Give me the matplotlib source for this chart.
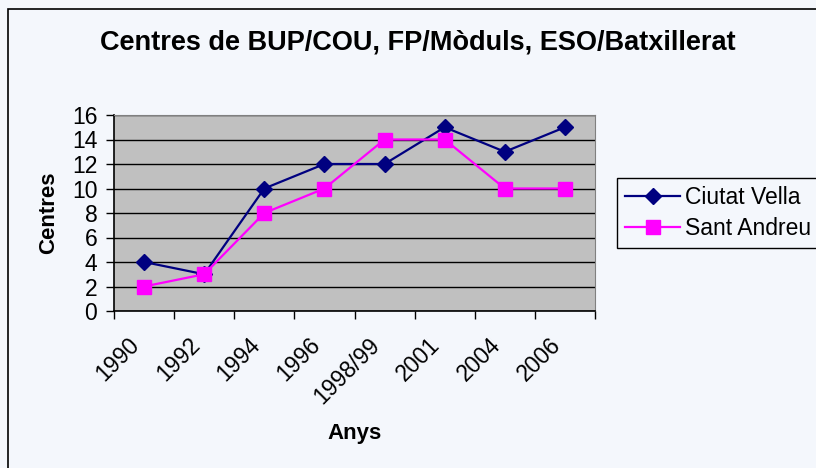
import matplotlib
matplotlib.use('Agg')
import matplotlib.pyplot as plt
from matplotlib.patches import Rectangle
from matplotlib.transforms import ScaledTranslation
import numpy as np

years = ['1990', '1992', '1994', '1996', '1998/99', '2001', '2004', '2006']
ciutat_vella = [4, 3, 10, 12, 12, 15, 13, 15]
sant_andreu = [2, 3, 8, 10, 14, 14, 10, 10]

BG = '#F4F7FC'
W, H = 816, 468

plt.rcParams['font.family'] = ['Liberation Sans', 'DejaVu Sans']

fig = plt.figure(figsize=(W / 100, H / 100), dpi=100, facecolor=BG)

# chart frame (cropped at right and bottom in the original)
fig.patches.append(Rectangle((8 / W, -0.1), 1.2, 1.1 - 9 / H,
                             transform=fig.transFigure, fill=False,
                             edgecolor='black', lw=1.2))

ax = fig.add_axes([114 / W, 1 - 311 / H, 481 / W, 196 / H])
ax.set_facecolor('#C0C0C0')

x = np.arange(len(years))
ax.plot(x, ciutat_vella, color='#000080', lw=1.6, marker='D', ms=8.5,
        label='Ciutat Vella', zorder=3)
ax.plot(x, sant_andreu, color='#FF00FF', lw=1.6, marker='s', ms=10,
        label='Sant Andreu', zorder=3)

ax.set_ylim(0, 16)
ax.set_yticks(range(0, 17, 2))
ax.set_xlim(-0.5, len(years) - 0.5)
ax.set_xticks(np.arange(-0.5, len(years), 1.0))
ax.set_xticklabels([])
ax.set_xticks(x, minor=True)
ax.set_xticklabels(years, minor=True, rotation=45, ha='right',
                   va='center', rotation_mode='anchor', fontsize=16.5)
ax.tick_params(axis='x', which='minor', length=0, pad=22)
ax.tick_params(axis='x', which='major', length=6, width=1, direction='out')
ax.tick_params(axis='y', length=6, width=1, labelsize=16.5, pad=6)
shift = ScaledTranslation(-8 / 100, 0, fig.dpi_scale_trans)
for lab in ax.get_xticklabels(minor=True):
    lab.set_transform(lab.get_transform() + shift)

ax.grid(axis='y', color='black', lw=1)
ax.set_axisbelow(True)
for side in ('top', 'right'):
    ax.spines[side].set_color('#808080')
for side in ('left', 'bottom'):
    ax.spines[side].set_color('black')
    ax.spines[side].set_linewidth(1.2)

ax.set_ylabel('Centres', fontsize=16, fontweight='bold', labelpad=9)
fig.text(354.5 / W, 1 - 433 / H, 'Anys', fontsize=16, fontweight='bold',
         ha='center', va='center')
fig.text(418 / W, 1 - 42 / H, 'Centres de BUP/COU, FP/Mòduls, ESO/Batxillerat',
         fontsize=19.5, fontweight='bold', ha='center', va='center')

leg = fig.legend(loc='upper left', bbox_to_anchor=(617 / W, 1 - 178 / H),
                 fontsize=16.5, frameon=True, fancybox=False,
                 facecolor=BG, edgecolor='black', framealpha=1,
                 handlelength=2.4, borderpad=0.35, labelspacing=0.35,
                 handletextpad=0.2, borderaxespad=0)
leg.get_frame().set_linewidth(1)

fig.savefig('out.png', dpi=100, facecolor=BG)
